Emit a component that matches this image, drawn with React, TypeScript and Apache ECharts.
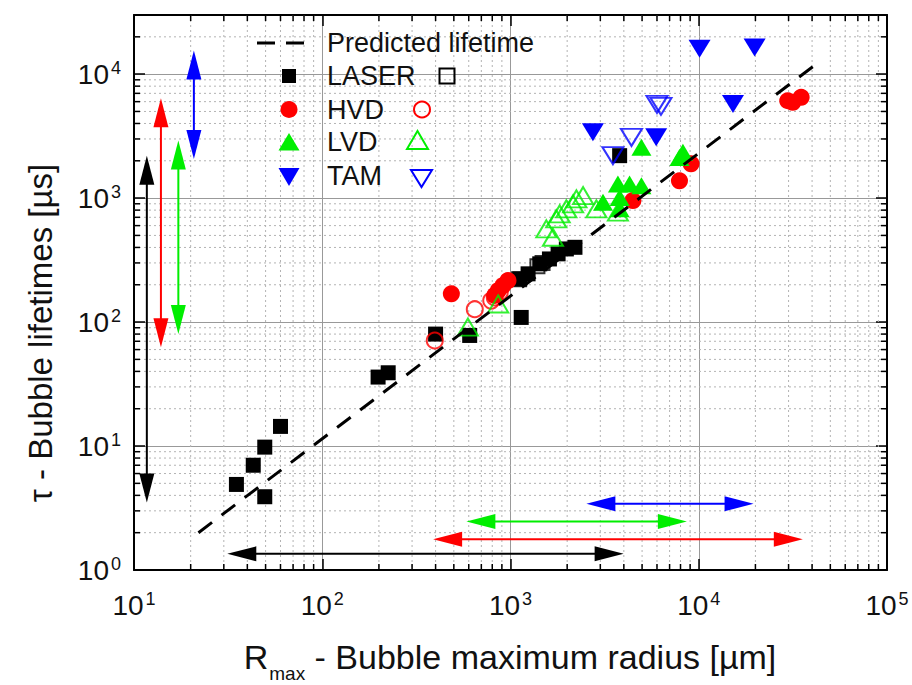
import React, { useEffect, useRef } from 'react';
import * as echarts from 'echarts';

const FONT = '"Liberation Sans", Arial, Helvetica, sans-serif';

// ---- data (R_max [µm], tau [µs]) ----
const laserFilled = [
  [35, 4.9], [43, 7.0], [49.5, 9.8], [49.5, 3.9], [60, 14.4], [198, 36], [224, 39],
  [400, 80], [607, 78], [1140, 109], [1120, 223], [1240, 245], [1430, 295], [1610, 323],
  [1790, 355], [1980, 389], [2200, 401], [3800, 2200],
];
const laserOpen = [[1110, 222], [1390, 282], [1480, 300]];
const hvdFilled = [
  [485, 169], [825, 164], [860, 179], [912, 197], [970, 216], [4470, 955], [7900, 1380],
  [9100, 1890], [29700, 6100], [31600, 5930], [35000, 6500],
];
const hvdOpen = [[396, 71], [646, 127], [790, 149], [825, 158], [877, 174]];
const lvdFilled = [
  [4960, 2570], [8240, 2340], [7900, 2130], [3720, 1300], [4290, 1300], [4960, 1260],
  [3100, 925], [3800, 820], [3800, 1010],
];
const lvdOpen = [
  [594, 91], [860, 140], [1550, 565], [1680, 483], [1750, 680], [1825, 746], [1980, 818],
  [2150, 898], [2240, 985], [2430, 1047], [2860, 818], [3720, 770],
];
const tamFilled = [[10100, 16000], [19800, 16400], [15200, 5750], [2740, 3400], [5940, 3090]];
const tamOpen = [[3500, 2200], [4390, 3090], [6000, 5700], [6300, 5500]];
const predicted = [[22, 2.0], [41000, 11700]];

// range arrows (tip to tip)
const arrowFrom = [
  [11.7, 3.5], [13.9, 62.6], [17.2, 80], [20.8, 2070],
  [31.3, 1.35], [388, 1.77], [583, 2.46], [2530, 3.42],
];
const arrowTo = [
  [11.7, 2200], [13.9, 6380], [17.2, 2910], [20.8, 15500],
  [3990, 1.35], [35700, 1.77], [8650, 2.46], [19550, 3.42],
];
const BLACK = '#000000';
const RED = '#ff0000';
const GREEN = '#00ee00';
const BLUE = '#0000ff';
const arrowColors = [BLACK, RED, GREEN, BLUE, BLACK, RED, GREEN, BLUE];

// axis ranges and minor ticks
const xRange = [10, 100000];
const yRange = [1, 30000];
const minorMult = [2, 3, 4, 5, 6, 7, 8, 9];
const xDecades = [10, 100, 1000, 10000];
const yDecades = [1, 10, 100, 1000, 10000];
const xMinor = xDecades.flatMap((d) => minorMult.map((m) => d * m));
const yMinor = yDecades.flatMap((d) => minorMult.map((m) => d * m)).filter((v) => v < yRange[1]);

const powLabel = (v: number) => {
  const l = Math.log10(v);
  const e = Math.round(l);
  if (Math.abs(l - e) > 1e-6) return '';
  return `{b|10}{s|${e}}`;
};
const labelRich = {
  b: { fontSize: 28, fontFamily: FONT, color: '#111', lineHeight: 30 },
  s: { fontSize: 18, fontFamily: FONT, color: '#111', lineHeight: 5, verticalAlign: 'top', padding: [0, 0, 0, 2] },
};

const tickStyle = { color: '#000', width: 1.5 };
const axisLineStyle = { color: '#000', width: 2 };

export default function App() {
  const ref = useRef<HTMLDivElement>(null);
  useEffect(() => {
    const chart = echarts.init(ref.current!, null, { renderer: 'svg' });
    const open = (c: string) => ({ color: 'rgba(0,0,0,0)', borderColor: c, borderWidth: 2 });
    const txt = (text: string, y: number) => ({
      type: 'text', x: 327, y, z: 100,
      style: { text, fontSize: 27, fontFamily: FONT, fill: '#111', align: 'left', verticalAlign: 'middle' },
    });
    const option: any = {
      animation: false,
      backgroundColor: '#fff',
      grid: { left: 134, right: 25, top: 15, bottom: 115 },
      xAxis: [
        {
          type: 'log', logBase: 10, min: xRange[0], max: xRange[1], position: 'bottom',
          axisLine: { onZero: false, lineStyle: axisLineStyle },
          axisTick: { inside: true, length: 11, lineStyle: tickStyle },
          axisLabel: { margin: 20, formatter: powLabel, rich: labelRich, showMinLabel: true, showMaxLabel: true },
          splitLine: { show: true, lineStyle: { color: '#999', width: 1 } },
        },
        {
          type: 'log', logBase: 10, min: xRange[0], max: xRange[1], position: 'top',
          axisLine: { onZero: false, lineStyle: axisLineStyle },
          axisTick: { inside: true, length: 11, lineStyle: tickStyle },
          axisLabel: { show: false }, splitLine: { show: false },
        },
      ],
      yAxis: [
        {
          type: 'log', logBase: 10, min: yRange[0], max: yRange[1], position: 'left',
          axisLine: { onZero: false, lineStyle: axisLineStyle },
          axisTick: { inside: true, length: 11, lineStyle: tickStyle },
          axisLabel: { margin: 13, formatter: powLabel, rich: labelRich, showMinLabel: true },
          splitLine: { show: true, lineStyle: { color: '#999', width: 1 } },
        },
        {
          type: 'log', logBase: 10, min: yRange[0], max: yRange[1], position: 'right',
          axisLine: { onZero: false, lineStyle: axisLineStyle },
          axisTick: { inside: true, length: 11, lineStyle: tickStyle },
          axisLabel: { show: false }, splitLine: { show: false },
        },
      ],
      series: [
        {
          type: 'custom', name: 'xminor', z: 1, silent: true, clip: false,
          data: xMinor.map((v) => [v, 1]),
          encode: { x: 0, y: 1 },
          renderItem: (params: any, api: any) => {
            const cs = params.coordSys;
            const px = api.coord([api.value(0), 1])[0];
            const b = cs.y + cs.height;
            return {
              type: 'group',
              children: [
                { type: 'line', shape: { x1: px, y1: cs.y, x2: px, y2: b }, style: { stroke: '#b3b3b3', lineWidth: 1, lineDash: [2, 3] } },
                { type: 'line', shape: { x1: px, y1: b, x2: px, y2: b - 6 }, style: { stroke: '#000', lineWidth: 1.5 } },
                { type: 'line', shape: { x1: px, y1: cs.y, x2: px, y2: cs.y + 6 }, style: { stroke: '#000', lineWidth: 1.5 } },
              ],
            };
          },
        },
        {
          type: 'custom', name: 'yminor', z: 1, silent: true, clip: false,
          data: yMinor.map((v) => [10, v]),
          encode: { x: 0, y: 1 },
          renderItem: (params: any, api: any) => {
            const cs = params.coordSys;
            const py = api.coord([10, api.value(1)])[1];
            const r = cs.x + cs.width;
            return {
              type: 'group',
              children: [
                { type: 'line', shape: { x1: cs.x, y1: py, x2: r, y2: py }, style: { stroke: '#b3b3b3', lineWidth: 1, lineDash: [2, 3] } },
                { type: 'line', shape: { x1: cs.x, y1: py, x2: cs.x + 6, y2: py }, style: { stroke: '#000', lineWidth: 1.5 } },
                { type: 'line', shape: { x1: r, y1: py, x2: r - 6, y2: py }, style: { stroke: '#000', lineWidth: 1.5 } },
              ],
            };
          },
        },
        {
          type: 'custom', name: 'ranges', z: 3, silent: true, clip: false,
          data: arrowFrom.map((f, i) => [f[0], f[1], arrowTo[i][0], arrowTo[i][1]]),
          encode: { x: [0, 2], y: [1, 3] },
          renderItem: (params: any, api: any) => {
            const a = api.coord([api.value(0), api.value(1)]);
            const b = api.coord([api.value(2), api.value(3)]);
            const dx = b[0] - a[0];
            const dy = b[1] - a[1];
            const len = Math.hypot(dx, dy) || 1;
            const ux = dx / len, uy = dy / len;
            const nx = -uy, ny = ux;
            const L = 29, W = 7.5;
            const color = arrowColors[params.dataIndex];
            const head = (p: number[], s: number) => [
              [p[0], p[1]],
              [p[0] + s * ux * L + nx * W, p[1] + s * uy * L + ny * W],
              [p[0] + s * ux * L - nx * W, p[1] + s * uy * L - ny * W],
            ];
            return {
              type: 'group',
              children: [
                { type: 'line', shape: { x1: a[0] + ux * L * 0.8, y1: a[1] + uy * L * 0.8, x2: b[0] - ux * L * 0.8, y2: b[1] - uy * L * 0.8 }, style: { stroke: color, lineWidth: 2 } },
                { type: 'polygon', shape: { points: head(a, 1) }, style: { fill: color } },
                { type: 'polygon', shape: { points: head(b, -1) }, style: { fill: color } },
              ],
            };
          },
        },
        { type: 'scatter', name: 'LASER', z: 4, data: laserFilled, symbol: 'rect', symbolSize: 15, itemStyle: { color: BLACK, opacity: 1 } },
        { type: 'scatter', name: 'LASER open', z: 4, data: laserOpen, symbol: 'rect', symbolSize: 14, itemStyle: open(BLACK) },
        { type: 'scatter', name: 'HVD', z: 4, data: hvdFilled, symbol: 'circle', symbolSize: 17, itemStyle: { color: RED, opacity: 1 } },
        { type: 'scatter', name: 'HVD open', z: 4, data: hvdOpen, symbol: 'circle', symbolSize: 16, itemStyle: open(RED) },
        { type: 'scatter', name: 'LVD open', z: 4, data: lvdOpen, symbol: 'triangle', symbolSize: [20, 17], itemStyle: open(GREEN) },
        { type: 'scatter', name: 'LVD', z: 4, data: lvdFilled, symbol: 'triangle', symbolSize: [20, 17], itemStyle: { color: GREEN, opacity: 1 } },
        { type: 'scatter', name: 'TAM open', z: 4, data: tamOpen, symbol: 'triangle', symbolRotate: 180, symbolSize: [21, 17], itemStyle: open(BLUE) },
        { type: 'scatter', name: 'TAM', z: 4, data: tamFilled, symbol: 'triangle', symbolRotate: 180, symbolSize: [22, 18], itemStyle: { color: BLUE, opacity: 1 } },
        {
          type: 'line', name: 'Predicted lifetime', z: 5, data: predicted, symbol: 'none', silent: true,
          lineStyle: { color: '#000', width: 3, type: [17, 12] },
        },
      ],
      graphic: [
        // legend
        { type: 'line', z: 100, shape: { x1: 257, y1: 43, x2: 304, y2: 43 }, style: { stroke: '#000', lineWidth: 3, lineDash: [18, 11] } },
        txt('Predicted lifetime', 43),
        { type: 'rect', z: 100, shape: { x: 282, y: 69, width: 14, height: 14 }, style: { fill: BLACK } },
        txt('LASER', 76),
        { type: 'rect', z: 100, shape: { x: 439.5, y: 68.5, width: 15, height: 15 }, style: { fill: 'none', stroke: BLACK, lineWidth: 2 } },
        { type: 'circle', z: 100, shape: { cx: 289, cy: 109.5, r: 8.5 }, style: { fill: RED } },
        txt('HVD', 109.5),
        { type: 'circle', z: 100, shape: { cx: 422, cy: 109.5, r: 8 }, style: { fill: 'none', stroke: RED, lineWidth: 2 } },
        { type: 'polygon', z: 100, shape: { points: [[278.5, 150.5], [299.5, 150.5], [289, 133]] }, style: { fill: GREEN } },
        txt('LVD', 142),
        { type: 'polygon', z: 100, shape: { points: [[407, 149], [428, 149], [417.5, 131]] }, style: { fill: 'none', stroke: GREEN, lineWidth: 2 } },
        { type: 'polygon', z: 100, shape: { points: [[278.5, 168], [299.5, 168], [289, 186]] }, style: { fill: BLUE } },
        txt('TAM', 175.5),
        { type: 'polygon', z: 100, shape: { points: [[411, 170], [432, 170], [421.5, 187]] }, style: { fill: 'none', stroke: BLUE, lineWidth: 2 } },
        // axis titles
        {
          type: 'text', x: 510, y: 640, z: 100,
          style: {
            text: '{m|R}{s|max}{m| - Bubble maximum radius [µm]}',
            align: 'center', verticalAlign: 'top',
            rich: {
              m: { fontSize: 34, fontFamily: FONT, fill: '#111', lineHeight: 40, verticalAlign: 'top' },
              s: { fontSize: 19, fontFamily: FONT, fill: '#111', lineHeight: 12, verticalAlign: 'top', padding: [24, 0, 0, 1] },
            },
          },
        },
        {
          type: 'text', x: 40, y: 333, z: 100, rotation: Math.PI / 2,
          style: { text: 'τ - Bubble lifetimes [µs]', fontSize: 33, fontFamily: FONT, fill: '#111', align: 'center', verticalAlign: 'middle' },
        },
      ],
    };
    chart.setOption(option);
    return () => chart.dispose();
  }, []);
  return <div ref={ref} style={{ position: 'fixed', left: 0, top: 0, width: 912, height: 685 }} />;
}
